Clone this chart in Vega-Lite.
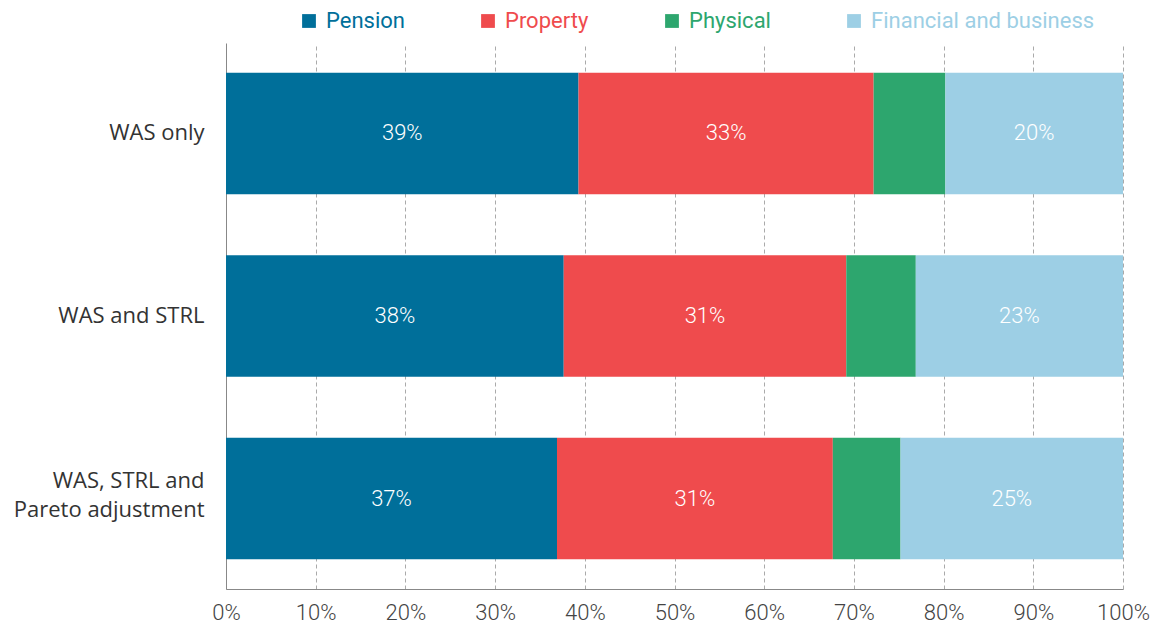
{
  "$schema": "https://vega.github.io/schema/vega-lite/v6.json",
  "width": 897,
  "height": 546,
  "autosize": {"type": "none"},
  "padding": {"left": 226, "top": 43, "right": 31, "bottom": 42},
  "background": "white",
  "config": {"view": {"stroke": null}, "font": "Roboto"},
  "data": {
    "values": [
      {"cat": "WAS only", "series": "Pension", "ord": 1, "value": 39.3, "label": "39%"},
      {"cat": "WAS only", "series": "Property", "ord": 2, "value": 32.9, "label": "33%"},
      {"cat": "WAS only", "series": "Physical", "ord": 3, "value": 8.0, "label": ""},
      {"cat": "WAS only", "series": "Financial and business", "ord": 4, "value": 19.8, "label": "20%"},
      {"cat": "WAS and STRL", "series": "Pension", "ord": 1, "value": 37.65, "label": "38%"},
      {"cat": "WAS and STRL", "series": "Property", "ord": 2, "value": 31.5, "label": "31%"},
      {"cat": "WAS and STRL", "series": "Physical", "ord": 3, "value": 7.75, "label": ""},
      {"cat": "WAS and STRL", "series": "Financial and business", "ord": 4, "value": 23.1, "label": "23%"},
      {"cat": "WAS, STRL and Pareto adjustment", "series": "Pension", "ord": 1, "value": 36.9, "label": "37%"},
      {"cat": "WAS, STRL and Pareto adjustment", "series": "Property", "ord": 2, "value": 30.75, "label": "31%"},
      {"cat": "WAS, STRL and Pareto adjustment", "series": "Physical", "ord": 3, "value": 7.55, "label": ""},
      {"cat": "WAS, STRL and Pareto adjustment", "series": "Financial and business", "ord": 4, "value": 24.8, "label": "25%"}
    ]
  },
  "transform": [
    {"stack": "value", "groupby": ["cat"], "sort": [{"field": "ord", "order": "ascending"}], "as": ["v0", "v1"]},
    {"calculate": "(datum.v0 + datum.v1) / 2", "as": "mid"}
  ],
  "encoding": {
    "y": {
      "field": "cat",
      "type": "nominal",
      "sort": null,
      "scale": {"paddingInner": 0.335, "paddingOuter": 0.163},
      "axis": {
        "title": null,
        "domainColor": "#888888",
        "ticks": false,
        "labelFontSize": 22,
        "labelFont": "Open Sans",
        "labelColor": "#333333",
        "labelPadding": 22,
        "labelLimit": 300,
        "labelLineHeight": 29,
        "labelOffset": {"expr": "datum.value == 'WAS, STRL and Pareto adjustment' ? -18 : 0"},
        "labelExpr": "datum.label == 'WAS, STRL and Pareto adjustment' ? ['WAS, STRL and   ', 'Pareto adjustment'] : datum.label"
      }
    }
  },
  "layer": [
    {
      "mark": {"type": "bar"},
      "encoding": {
        "x": {
          "field": "v0",
          "type": "quantitative",
          "scale": {"domain": [0, 100], "nice": false},
          "axis": {
            "title": null,
            "values": [0, 10, 20, 30, 40, 50, 60, 70, 80, 90, 100],
            "labelExpr": "datum.value + '%'",
            "grid": true,
            "gridDash": [4, 3],
            "gridColor": "#aaaaaa",
            "ticks": false,
            "domainColor": "#888888",
            "labelFontSize": 22,
            "labelFont": "Roboto",
            "labelFontWeight": 300,
            "labelColor": "#444444",
            "labelPadding": 13,
            "labelOverlap": false,
            "labelFlush": false
          }
        },
        "x2": {"field": "v1"},
        "color": {
          "field": "series",
          "type": "nominal",
          "sort": ["Pension", "Property", "Physical", "Financial and business"],
          "scale": {
            "domain": ["Pension", "Property", "Physical", "Financial and business"],
            "range": ["#006F9A", "#EF4B4D", "#2DA66E", "#9DCFE5"]
          },
          "legend": {
            "orient": "none",
            "legendX": 72,
            "legendY": -33,
            "direction": "horizontal",
            "title": null,
            "symbolType": "square",
            "symbolSize": 190,
            "symbolStrokeWidth": 0,
            "labelFontSize": 22,
            "labelFont": "Roboto",
            "labelOffset": 6,
            "columnPadding": 72,
            "labelLimit": 400,
            "encode": {
              "labels": {"update": {"fill": {"scale": "color", "field": "value"}}}
            }
          }
        }
      }
    },
    {
      "mark": {"type": "text", "color": "white", "fontSize": 22, "fontWeight": 300, "font": "Roboto"},
      "encoding": {
        "x": {"field": "mid", "type": "quantitative"},
        "text": {"field": "label"}
      }
    }
  ]
}
